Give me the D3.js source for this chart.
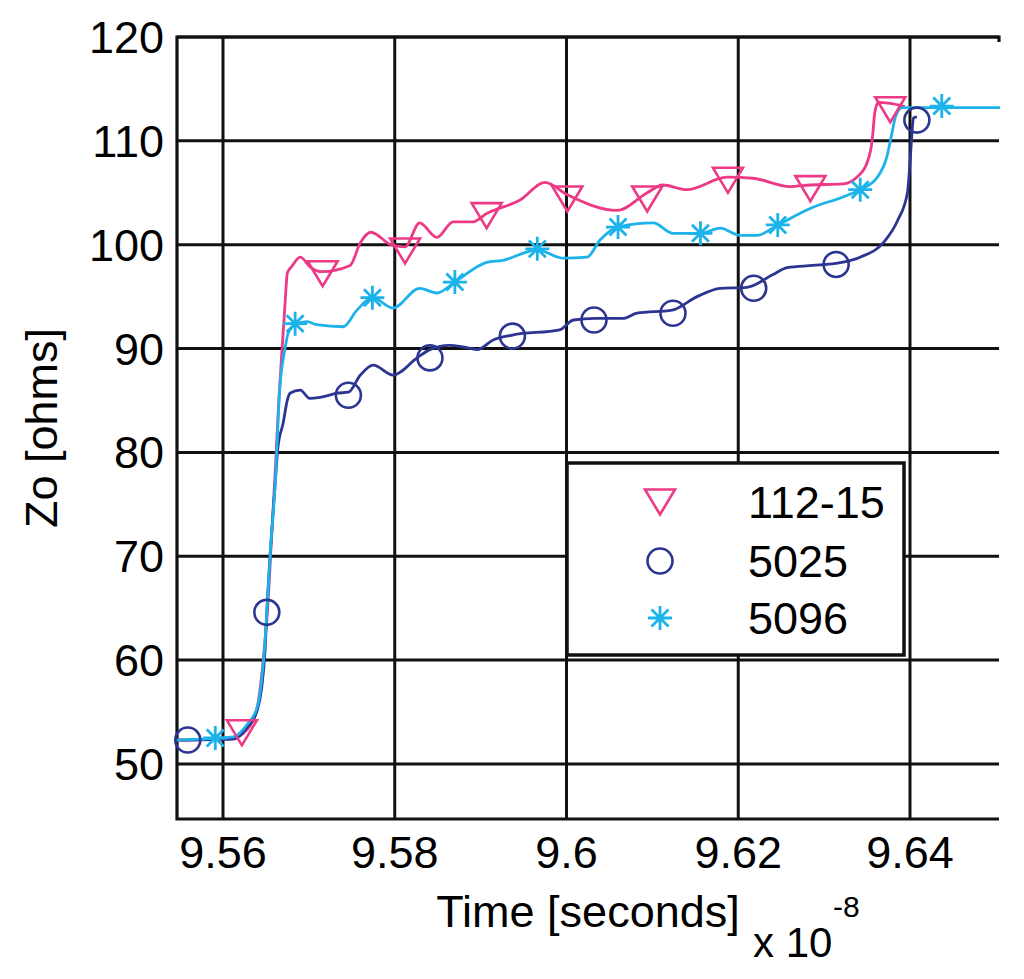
<!DOCTYPE html>
<html>
<head>
<meta charset="utf-8">
<script src="https://cdn.jsdelivr.net/npm/d3@7"></script>
<style>
  body { margin: 0; background: #fff; }
  text { font-family: 'Liberation Sans', Arial, Helvetica, sans-serif; fill: #000; }
</style>
</head>
<body>
<svg id="chart"></svg>
<script>
// time in units of 1e-8 s, impedance in ohms
let xTicks = [9.56, 9.58, 9.6, 9.62, 9.64]
let xTickLabels = ['9.56', '9.58', '9.6', '9.62', '9.64']
let yTicks = [50, 60, 70, 80, 90, 100, 110, 120]
let seriesNames = ['112-15', '5025', '5096']

let line11215 = [
  [9.5546, 52.3], [9.5612, 52.5], [9.5628, 53.3], [9.5640, 55.5], [9.5645, 58.5],
  [9.5649, 62.0], [9.5652, 65.0], [9.5656, 71.0], [9.5661, 78.5], [9.5665, 85.0],
  [9.5669, 90.2], [9.5672, 94.0], [9.5675, 97.3], [9.5680, 97.9], [9.5690, 98.8],
  [9.5701, 97.9], [9.5715, 97.4], [9.5748, 98.0], [9.5760, 100.2], [9.5772, 101.2],
  [9.5798, 99.9], [9.5812, 99.8], [9.5829, 102.1], [9.5849, 100.7], [9.5868, 102.2],
  [9.5891, 102.2], [9.5907, 103.0], [9.5946, 104.3], [9.5975, 106.0], [9.6001, 104.8],
  [9.6059, 103.3], [9.6094, 105.0], [9.6112, 105.75], [9.6140, 105.3], [9.6187, 106.5],
  [9.6217, 106.4], [9.6260, 105.6], [9.6284, 105.75], [9.6322, 105.85], [9.6338, 106.5],
  [9.6350, 107.9], [9.6356, 110.1], [9.6359, 112.7], [9.6363, 113.7], [9.6377, 113.6],
  [9.6394, 113.3]
]
let line5025 = [
  [9.5546, 52.3], [9.5612, 52.4], [9.5628, 53.5], [9.5640, 55.2], [9.5645, 57.3],
  [9.5649, 61.0], [9.5651, 64.6], [9.5655, 70.3], [9.5661, 77.3], [9.5664, 80.5],
  [9.5670, 82.8], [9.5675, 85.05], [9.5678, 85.7], [9.5690, 86.0], [9.5701, 85.2],
  [9.5713, 85.3], [9.5733, 85.7], [9.5746, 85.8], [9.5760, 87.45], [9.5775, 88.4],
  [9.5798, 87.45], [9.5826, 89.1], [9.5841, 89.9], [9.5864, 90.3], [9.5880, 90.15],
  [9.5896, 89.9], [9.5914, 90.8], [9.5937, 91.3], [9.5992, 91.8], [9.6008, 92.75],
  [9.6033, 92.9], [9.6066, 92.9], [9.6082, 93.4], [9.6123, 93.7], [9.6152, 95.0],
  [9.6179, 95.8], [9.6210, 95.9], [9.6240, 97.1], [9.6257, 97.8], [9.6287, 98.0],
  [9.6313, 98.2], [9.6342, 98.8], [9.6369, 100.2], [9.6386, 102.4], [9.6397, 105.0],
  [9.6400, 107.9], [9.6402, 110.4], [9.6404, 112.2], [9.6408, 112.3]
]
let line5096 = [
  [9.5546, 52.3], [9.5612, 52.6], [9.5628, 53.8], [9.5640, 55.5], [9.5645, 58.1],
  [9.5649, 61.9], [9.5651, 64.6], [9.5655, 70.3], [9.5661, 77.3], [9.5666, 86.0],
  [9.5672, 89.9], [9.5676, 91.5], [9.5684, 92.3], [9.5698, 92.6], [9.5709, 92.3],
  [9.5740, 92.1], [9.5756, 93.7], [9.5774, 94.9], [9.5798, 93.9], [9.5829, 95.8],
  [9.5849, 95.35], [9.5870, 96.4], [9.5907, 98.3], [9.5926, 98.5], [9.5966, 99.5],
  [9.5996, 98.7], [9.6024, 98.8], [9.6039, 100.45], [9.6060, 101.7], [9.6101, 102.1],
  [9.6124, 101.1], [9.6156, 101.1], [9.6179, 101.6], [9.6202, 100.9], [9.6222, 100.9],
  [9.6246, 101.9], [9.6287, 103.6], [9.6322, 104.6], [9.6342, 105.3], [9.6362, 106.5],
  [9.6373, 108.45], [9.6379, 110.75], [9.6383, 112.3], [9.6391, 113.2], [9.6505, 113.2]
]

let markers11215 = [
  [9.5622, 53.0], [9.5716, 97.2], [9.5812, 99.4], [9.5907, 102.8], [9.6001, 104.4],
  [9.6094, 104.4], [9.6188, 106.2], [9.6284, 105.4], [9.6377, 113.0]
]
let markers5025 = [
  [9.5559, 52.3], [9.5651, 64.6], [9.5746, 85.5], [9.5841, 89.1], [9.5937, 91.2],
  [9.6032, 92.75], [9.6124, 93.4], [9.6218, 95.8], [9.6314, 98.1], [9.6408, 112.0]
]
let markers5096 = [
  [9.5591, 52.5], [9.5684, 92.4], [9.5774, 94.9], [9.5870, 96.4], [9.5966, 99.6],
  [9.6060, 101.7], [9.6156, 101.1], [9.6246, 101.9], [9.6342, 105.3], [9.6437, 113.35]
]

let width = 1024
let height = 979
let margin = { left: 177, right: 25, top: 37, bottom: 160 }
let colors = { '112-15': '#ec3a86', '5025': '#2c3591', '5096': '#1cb2ea' }

let svg = d3.select('#chart')
  .attr('width', width)
  .attr('height', height)

let x = d3.scaleLinear()
  .domain([9.554643, 9.650364])
  .range([margin.left, width - margin.right])
let y = d3.scaleLinear()
  .domain([44.7, 120])
  .range([height - margin.bottom, margin.top])

// grid
let grid = svg.append('g').attr('stroke', '#111').attr('stroke-width', 3)
grid.selectAll('.vgrid')
  .data(xTicks)
  .enter()
  .append('line')
  .attr('x1', (d) => x(d)).attr('x2', (d) => x(d))
  .attr('y1', y.range()[1]).attr('y2', y.range()[0])
grid.selectAll('.hgrid')
  .data(yTicks)
  .enter()
  .append('line')
  .attr('x1', x.range()[0]).attr('x2', x.range()[1])
  .attr('y1', (d) => y(d)).attr('y2', (d) => y(d))

// axes frame (left, bottom, top)
svg.append('path')
  .attr('d', `M${x.range()[1]},${y.range()[1] + 5}V${y.range()[1]}H${x.range()[0]}V${y.range()[0]}H${x.range()[1]}`)
  .attr('fill', 'none')
  .attr('stroke', '#111')
  .attr('stroke-width', 3.2)

// tick labels
svg.selectAll('.xlabel')
  .data(xTicks)
  .enter()
  .append('text')
  .attr('x', (d) => x(d))
  .attr('y', 868)
  .attr('text-anchor', 'middle')
  .attr('font-size', 45)
  .text((d, i) => xTickLabels[i])
svg.selectAll('.ylabel')
  .data(yTicks)
  .enter()
  .append('text')
  .attr('x', 164)
  .attr('y', (d) => y(d) + 16)
  .attr('text-anchor', 'end')
  .attr('font-size', 45)
  .text((d) => d)

// axis titles
svg.append('text')
  .attr('x', 588)
  .attr('y', 927)
  .attr('text-anchor', 'middle')
  .attr('font-size', 45)
  .text('Time [seconds]')
svg.append('text')
  .attr('x', 753)
  .attr('y', 957)
  .attr('font-size', 42)
  .text('x 10')
svg.append('text')
  .attr('x', 833)
  .attr('y', 917)
  .attr('font-size', 30)
  .text('-8')
svg.append('text')
  .attr('transform', 'translate(57,428) rotate(-90)')
  .attr('text-anchor', 'middle')
  .attr('font-size', 45)
  .text('Zo [ohms]')

// curves
let lineGen = d3.line()
  .x((d) => x(d[0]))
  .y((d) => y(d[1]))
  .curve(d3.curveMonotoneX)

let lines = [line11215, line5025, line5096]
svg.selectAll('.series')
  .data(lines)
  .enter()
  .append('path')
  .attr('d', (d) => lineGen(d))
  .attr('fill', 'none')
  .attr('stroke', (d, i) => colors[seriesNames[i]])
  .attr('stroke-width', 2.8)

// marker shapes
let triPath = 'M-15,-12.5L15,-12.5L0,12.5Z'
let starPath = d3.range(4).map((k) => {
  let a = k * Math.PI / 4
  let r = 12
  return `M${-r * Math.cos(a)},${-r * Math.sin(a)}L${r * Math.cos(a)},${r * Math.sin(a)}`
}).join('')

function drawMarkers (g, data, name) {
  let sel = g.selectAll('.m')
    .data(data)
    .enter()
    .append('g')
    .attr('transform', (d) => `translate(${x(d[0])},${y(d[1])})`)
  addShape(sel, name)
}

function addShape (sel, name) {
  if (name === '112-15') {
    sel.append('path').attr('d', triPath)
      .attr('fill', 'none').attr('stroke', colors[name]).attr('stroke-width', 2.6)
  } else if (name === '5025') {
    sel.append('circle').attr('r', 12.5)
      .attr('fill', 'none').attr('stroke', colors[name]).attr('stroke-width', 2.6)
  } else {
    sel.append('path').attr('d', starPath)
      .attr('fill', 'none').attr('stroke', colors[name]).attr('stroke-width', 2.8)
  }
}

drawMarkers(svg.append('g'), markers11215, '112-15')
drawMarkers(svg.append('g'), markers5025, '5025')
drawMarkers(svg.append('g'), markers5096, '5096')

// legend
let legend = svg.append('g')
legend.append('rect')
  .attr('x', 567).attr('y', 463)
  .attr('width', 337).attr('height', 192)
  .attr('fill', '#fff')
  .attr('stroke', '#111')
  .attr('stroke-width', 3.5)
let legendY = [502, 561, 618]
let items = legend.selectAll('.item')
  .data(seriesNames)
  .enter()
  .append('g')
  .attr('transform', (d, i) => `translate(0,${legendY[i]})`)
items.each(function (d) {
  let g = d3.select(this).append('g').attr('transform', 'translate(660,0)')
  addShape(g, d)
})
items.append('text')
  .attr('x', 748)
  .attr('y', 16)
  .attr('font-size', 45)
  .text((d) => d)
</script>
</body>
</html>
